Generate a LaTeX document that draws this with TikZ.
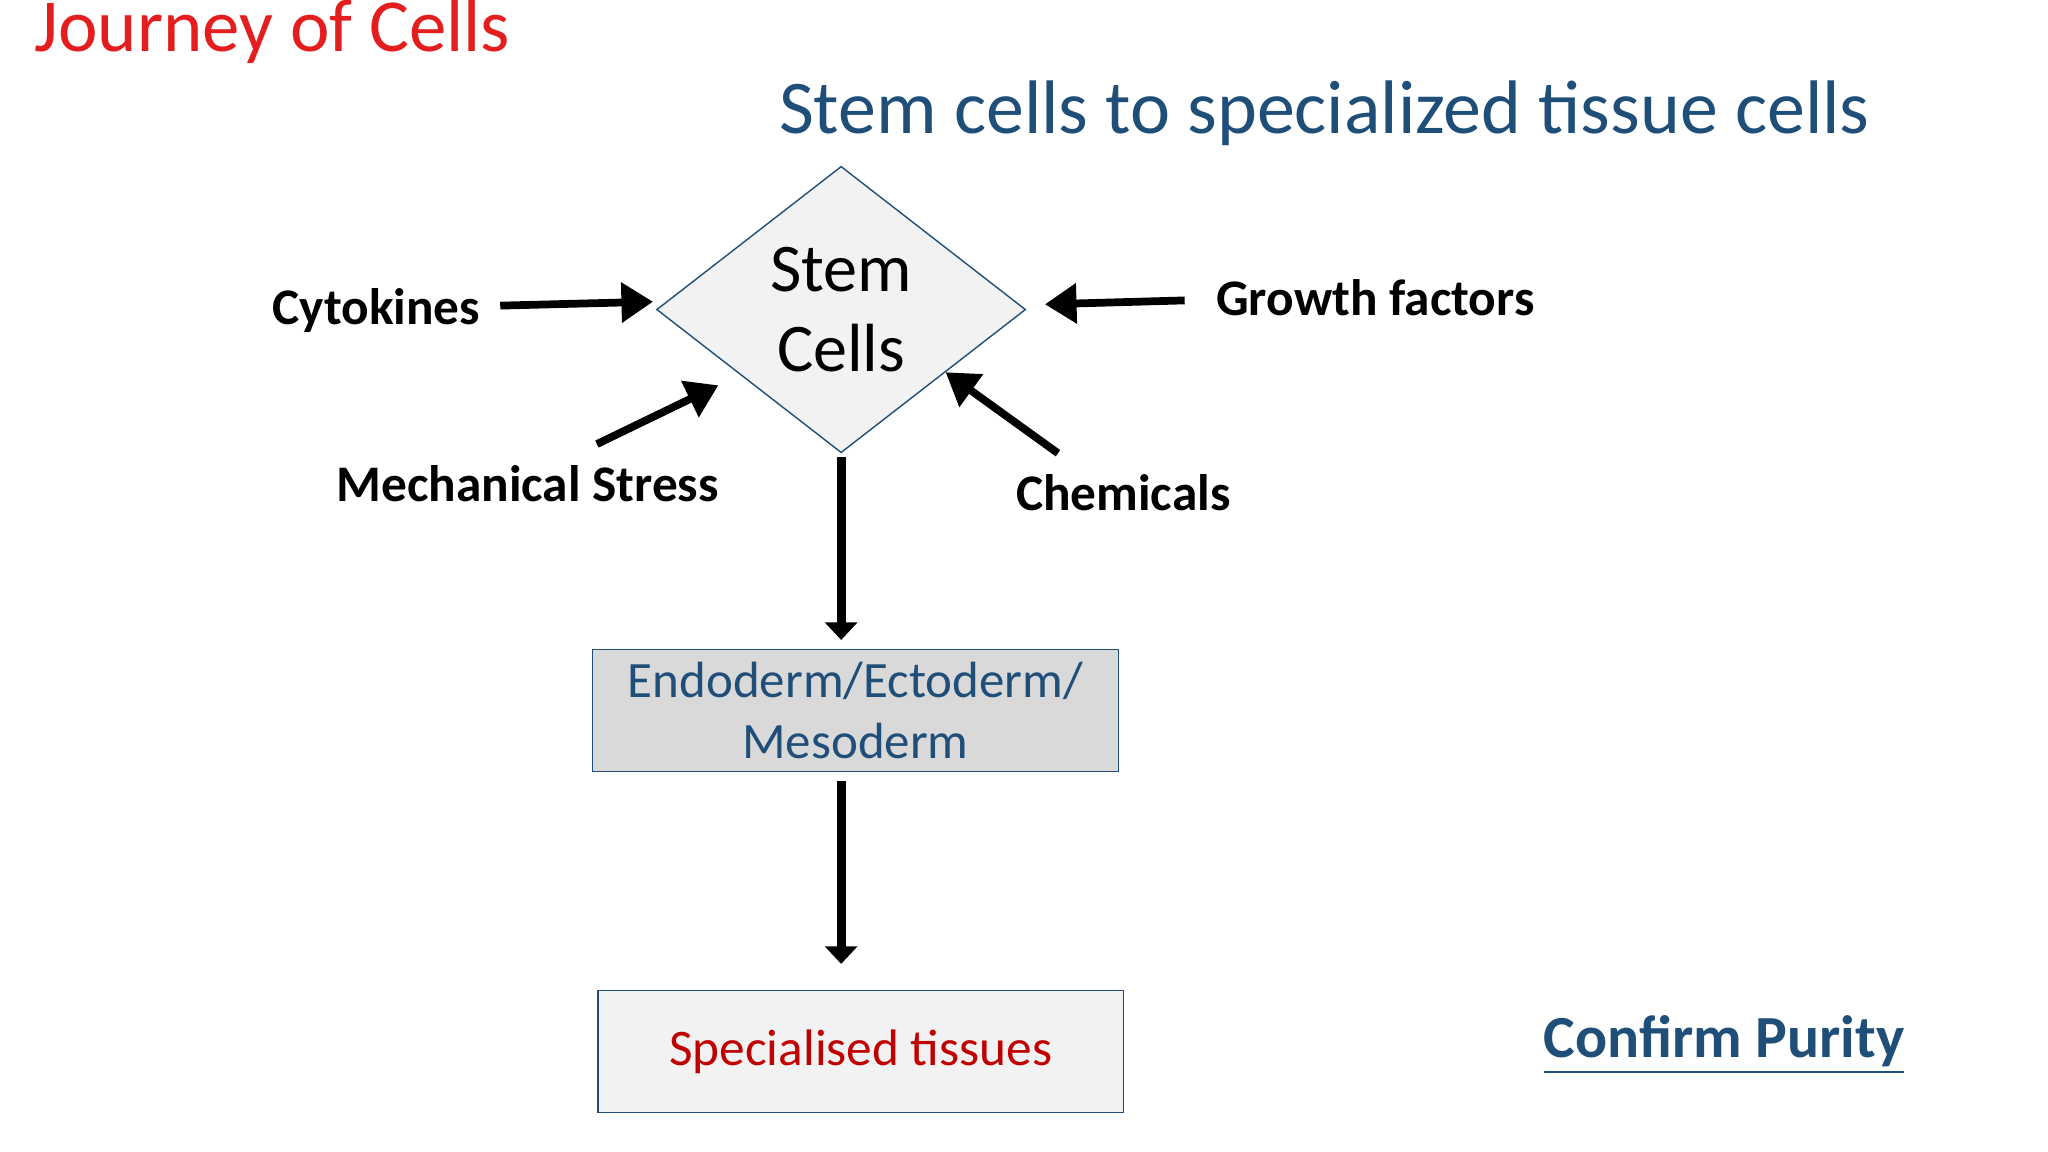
\documentclass[tikz,border=0pt]{standalone}
\usepackage{fontspec}
\setmainfont{Carlito}
\usetikzlibrary{shapes.geometric,arrows.meta,positioning}
\definecolor{slideblue}{HTML}{1F4E79}
\definecolor{slidered}{HTML}{E41E1E}
\definecolor{darkred}{HTML}{C00000}
\tikzset{
  factor/.style={font=\fontsize{14.6}{17}\selectfont\bfseries},
  push/.style={line width=2.2pt,-{Triangle[length=9pt,width=11pt]}},
  flow/.style={line width=2.6pt,draw=black,-{Triangle[length=5pt,width=9pt]}},
  stage/.style={draw=slideblue,thin,minimum width=149.5pt,minimum height=34.8pt,align=center}
}
\begin{document}
\begin{tikzpicture}[x=0.01306cm,y=-0.01306cm]
  \useasboundingbox (0,0) rectangle (1568,882);
    %title lines
  \node[anchor=west,text=slidered,font=\fontsize{21.3}{23}\selectfont] (title) at (17,24) {Journey of Cells};
  \node[anchor=west,text=slideblue,font=\fontsize{21.6}{24}\selectfont] (subtitle) at (587,87) {Stem cells to specialized tissue cells};
    %diamond
  \node[diamond,draw=slideblue,thin,fill=gray!10,minimum width=105pt,minimum height=81.5pt,inner sep=0pt,align=center,
        font=\fontsize{19.4}{23}\selectfont] (stem) at (644,237) {Stem\\Cells};
    %factors
  \node[factor] (cyto) at (288,238) {Cytokines};
  \node[factor] (growth) at (1053,228) {Growth factors};
  \node[factor] (mech) at (404,370) {Mechanical Stress};
  \node[factor] (chem) at (860,377) {Chemicals};
  \coordinate (c1) at (383,234);
  \coordinate (c2) at (500,231);
  \coordinate (g1) at (907,230);
  \coordinate (g2) at (800,233);
  \coordinate (m1) at (457,340);
  \coordinate (m2) at (550,295);
  \coordinate (h1) at (810,347);
  \coordinate (h2) at (724,285);
  \draw[push] (c1) -- (c2);
  \draw[push] (g1) -- (g2);
  \draw[push] (m1) -- (m2);
  \draw[push] (h1) -- (h2);
    %stages
  \node[stage,fill=gray!30,text=slideblue,font=\fontsize{14.5}{17.5}\selectfont] (germ) at (655,544) {Endoderm/Ectoderm/\\Mesoderm};
  \node[stage,fill=gray!10,text=darkred,font=\fontsize{14.6}{17}\selectfont] (tissue) at (659,805) {Specialised tissues};
  \coordinate (s1) at (644,350);
  \coordinate (s2) at (644,490);
  \coordinate (t1) at (644,598);
  \coordinate (t2) at (644,738);
  \draw[flow] (s1) -- (s2);
  \draw[flow] (t1) -- (t2);
    %purity
  \node[text=slideblue,font=\fontsize{17}{20}\selectfont\bfseries] (purity) at (1320,800) {\underline{Confirm Purity}};
\end{tikzpicture}
\end{document}
